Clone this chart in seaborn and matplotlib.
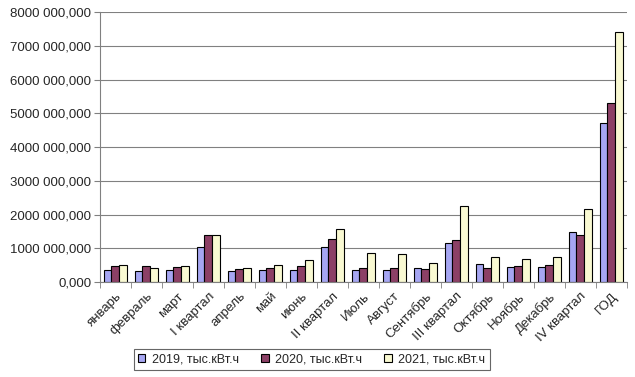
import numpy as np
import pandas as pd
import seaborn as sns
import matplotlib.pyplot as plt

categories = ['январь', 'февраль', 'март', 'I квартал', 'апрель', 'май', 'июнь', 'II квартал',
              'Июль', 'Август', 'Сентябрь', 'III квартал', 'Октябрь', 'Ноябрь', 'Декабрь',
              'IV квартал', 'ГОД']
v2019 = [370, 317, 347, 1030, 327, 347, 366, 1050, 365, 365, 415, 1165, 543, 454, 454, 1472, 4721]
v2020 = [485, 465, 446, 1406, 386, 426, 465, 1277, 415, 415, 395, 1244, 415, 474, 494, 1402, 5314]
v2021 = [505, 425, 465, 1406, 406, 505, 653, 1564, 849, 830, 563, 2262, 731, 681, 731, 2173, 7417]
series = ['2019, тыс.кВт.ч', '2020, тыс.кВт.ч', '2021, тыс.кВт.ч']
yticks = [0, 1000, 2000, 3000, 4000, 5000, 6000, 7000, 8000]
ytick_labels = ['0,000', '1000 000,000', '2000 000,000', '3000 000,000', '4000 000,000',
                '5000 000,000', '6000 000,000', '7000 000,000', '8000 000,000']

df = pd.DataFrame({'cat': categories * 3,
                   'val': v2019 + v2020 + v2021,
                   'series': [series[0]] * 17 + [series[1]] * 17 + [series[2]] * 17})

sns.set_style('white')
plt.rcParams['font.family'] = ['Liberation Sans', 'DejaVu Sans']
fs = 9.5

fig = plt.figure(figsize=(6.35, 3.77), dpi=100)
ax = fig.add_axes([0.157, 0.252, 0.830, 0.716])
sns.barplot(data=df, x='cat', y='val', hue='series', ax=ax, width=0.75,
            palette=['#9999FF', '#993366', '#FFFFCC'], edgecolor='black', linewidth=0.8,
            errorbar=None, legend=True)

ax.set_ylim(0, 8000)
ax.set_xlim(-0.5, len(categories) - 0.5)
ax.set_yticks(yticks)
ax.set_yticklabels(ytick_labels, fontsize=fs)
ax.yaxis.grid(True, color='#808080', linewidth=0.8)
ax.set_axisbelow(True)
ax.set_xlabel('')
ax.set_ylabel('')

# category ticks sit between groups like in excel
ax.set_xticks(np.arange(len(categories)))
ax.set_xticklabels(categories, rotation=45, ha='right', rotation_mode='anchor', fontsize=fs)
ax.tick_params(axis='x', length=0, pad=6)
ax.set_xticks(np.arange(len(categories) + 1) - 0.5, minor=True)
ax.tick_params(axis='x', which='minor', length=4, color='#808080', direction='out', bottom=True)
ax.tick_params(axis='y', length=4, color='#808080', direction='out', left=True, pad=2)

for s in ['top', 'right']:
    ax.spines[s].set_visible(False)
ax.spines['left'].set_color('#808080')
ax.spines['bottom'].set_color('#808080')

h, l = ax.get_legend_handles_labels()
ax.legend_.remove()
leg = fig.legend(h, l, loc='center', bbox_to_anchor=(0.4906, 0.046), ncol=3, fontsize=9,
                 frameon=True, fancybox=False, edgecolor='#404040', handlelength=0.6,
                 handleheight=0.6, handletextpad=0.5, columnspacing=1.8, borderpad=0.35)
leg.get_frame().set_linewidth(0.8)

plt.savefig('out.png', dpi=100)
